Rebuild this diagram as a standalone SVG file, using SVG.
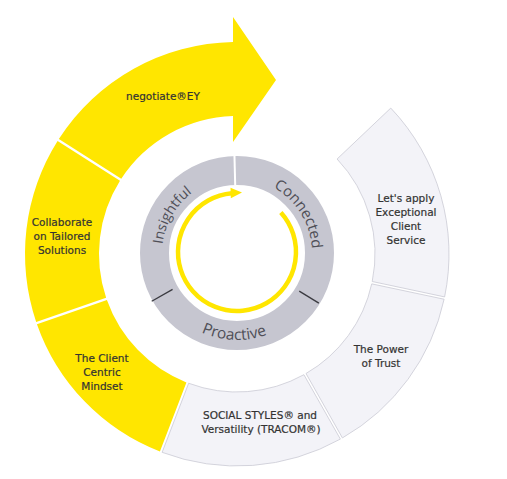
<svg xmlns="http://www.w3.org/2000/svg" width="507" height="479" viewBox="0 0 507 479">
  <style>
    .yel { fill: #FFE600; }
    .wht { fill: #f3f3f8; stroke: #cacad4; stroke-width: 0.8; }
    .lbl { font-family: "DejaVu Sans", "Liberation Sans", sans-serif; font-size: 10.5px; fill: #333333; stroke: #333333; stroke-width: 0.2; text-anchor: middle; }
    .ring { font-family: "Open Sans", "DejaVu Sans", sans-serif; fill: #4f4f57; }
  </style>
  <defs>
    <path id="pConnected" d="M253.87,179.92 A75,75 0 0 1 310.08,269.87"/>
    <path id="pInsightful" d="M164.56,272.41 A75,75 0 0 1 217.59,180.56"/>
    <path id="pProactive" d="M173.37,312.33 A87,87 0 0 0 296.33,316.63"/>
  </defs>
  <rect width="507" height="479" fill="#ffffff"/>

  <g id="negotiate">
    <path class="yel" d="M58.84,139.09 A212,212 0 0 1 233,42.04 L233,17 L276,80 L233,142 L233,116.06 A138,138 0 0 0 121.26,178.84 Z"/>
    <text class="lbl" x="163" y="100">negotiate®EY</text>
  </g>

  <g id="collaborate">
    <path class="yel" d="M36.17,321.90 A212,212 0 0 1 57.57,141.09 L119.97,180.87 A138,138 0 0 0 106.13,297.79 Z"/>
    <text class="lbl" x="62" y="226">Collaborate</text>
    <text class="lbl" x="62" y="240">on Tailored</text>
    <text class="lbl" x="62" y="254">Solutions</text>
  </g>

  <g id="client-centric">
    <path class="yel" d="M159.92,451.49 A212,212 0 0 1 36.94,324.14 L106.92,300.07 A138,138 0 0 0 186.42,382.40 Z"/>
    <text class="lbl" x="102" y="362">The Client</text>
    <text class="lbl" x="102" y="376">Centric</text>
    <text class="lbl" x="102" y="390">Mindset</text>
  </g>

  <g id="social-styles">
    <path class="wht" d="M340.36,439.10 A212,212 0 0 1 162.13,452.34 L188.67,383.26 A138,138 0 0 0 303.90,374.70 Z"/>
    <text class="lbl" x="260" y="419">SOCIAL STYLES® and</text>
    <text class="lbl" x="261" y="433">Versatility (TRACOM®)</text>
  </g>

  <g id="power-of-trust">
    <path class="wht" d="M444.12,299.23 A212,212 0 0 1 342.42,437.93 L306,373.51 A138,138 0 0 0 371.73,283.87 Z"/>
    <text class="lbl" x="381" y="353">The Power</text>
    <text class="lbl" x="381" y="367">of Trust</text>
  </g>

  <g id="exceptional-service">
    <path class="wht" d="M390.78,108.07 A212,212 0 0 1 444.61,296.92 L372.23,281.51 A138,138 0 0 0 337.10,159.01 Z"/>
    <text class="lbl" x="406" y="202">Let's apply</text>
    <text class="lbl" x="406" y="216">Exceptional</text>
    <text class="lbl" x="406" y="230">Client</text>
    <text class="lbl" x="406" y="244">Service</text>
  </g>

  <g id="inner-ring">
    <circle cx="237" cy="253" r="82.5" fill="none" stroke="#c6c6d0" stroke-width="29"/>
    <text class="ring" font-size="14"><textPath href="#pInsightful" startOffset="50%" text-anchor="middle">Insightful</textPath></text>
    <text class="ring" font-size="15"><textPath href="#pConnected" startOffset="50%" text-anchor="middle">Connected</textPath></text>
    <text class="ring" font-size="15.5"><textPath href="#pProactive" startOffset="50%" text-anchor="middle">Proactive</textPath></text>
  </g>

  <g id="connectors">
    <line x1="235.22" y1="185.5" x2="234.46" y2="156" stroke="#ffffff" stroke-width="2"/>
    <line x1="172.59" y1="289.44" x2="151.70" y2="301.26" stroke="#3a3a40" stroke-width="1.3"/>
    <line x1="299.24" y1="291.14" x2="318.85" y2="303.16" stroke="#3a3a40" stroke-width="1.3"/>
    <path d="M280.85,212.52 A59,59 0 1 1 231.86,193.22" fill="none" stroke="#FFE600" stroke-width="4.5"/>
    <polygon points="230.5,187.8 242,192.6 230.8,198.3" fill="#FFE600"/>
  </g>
</svg>
